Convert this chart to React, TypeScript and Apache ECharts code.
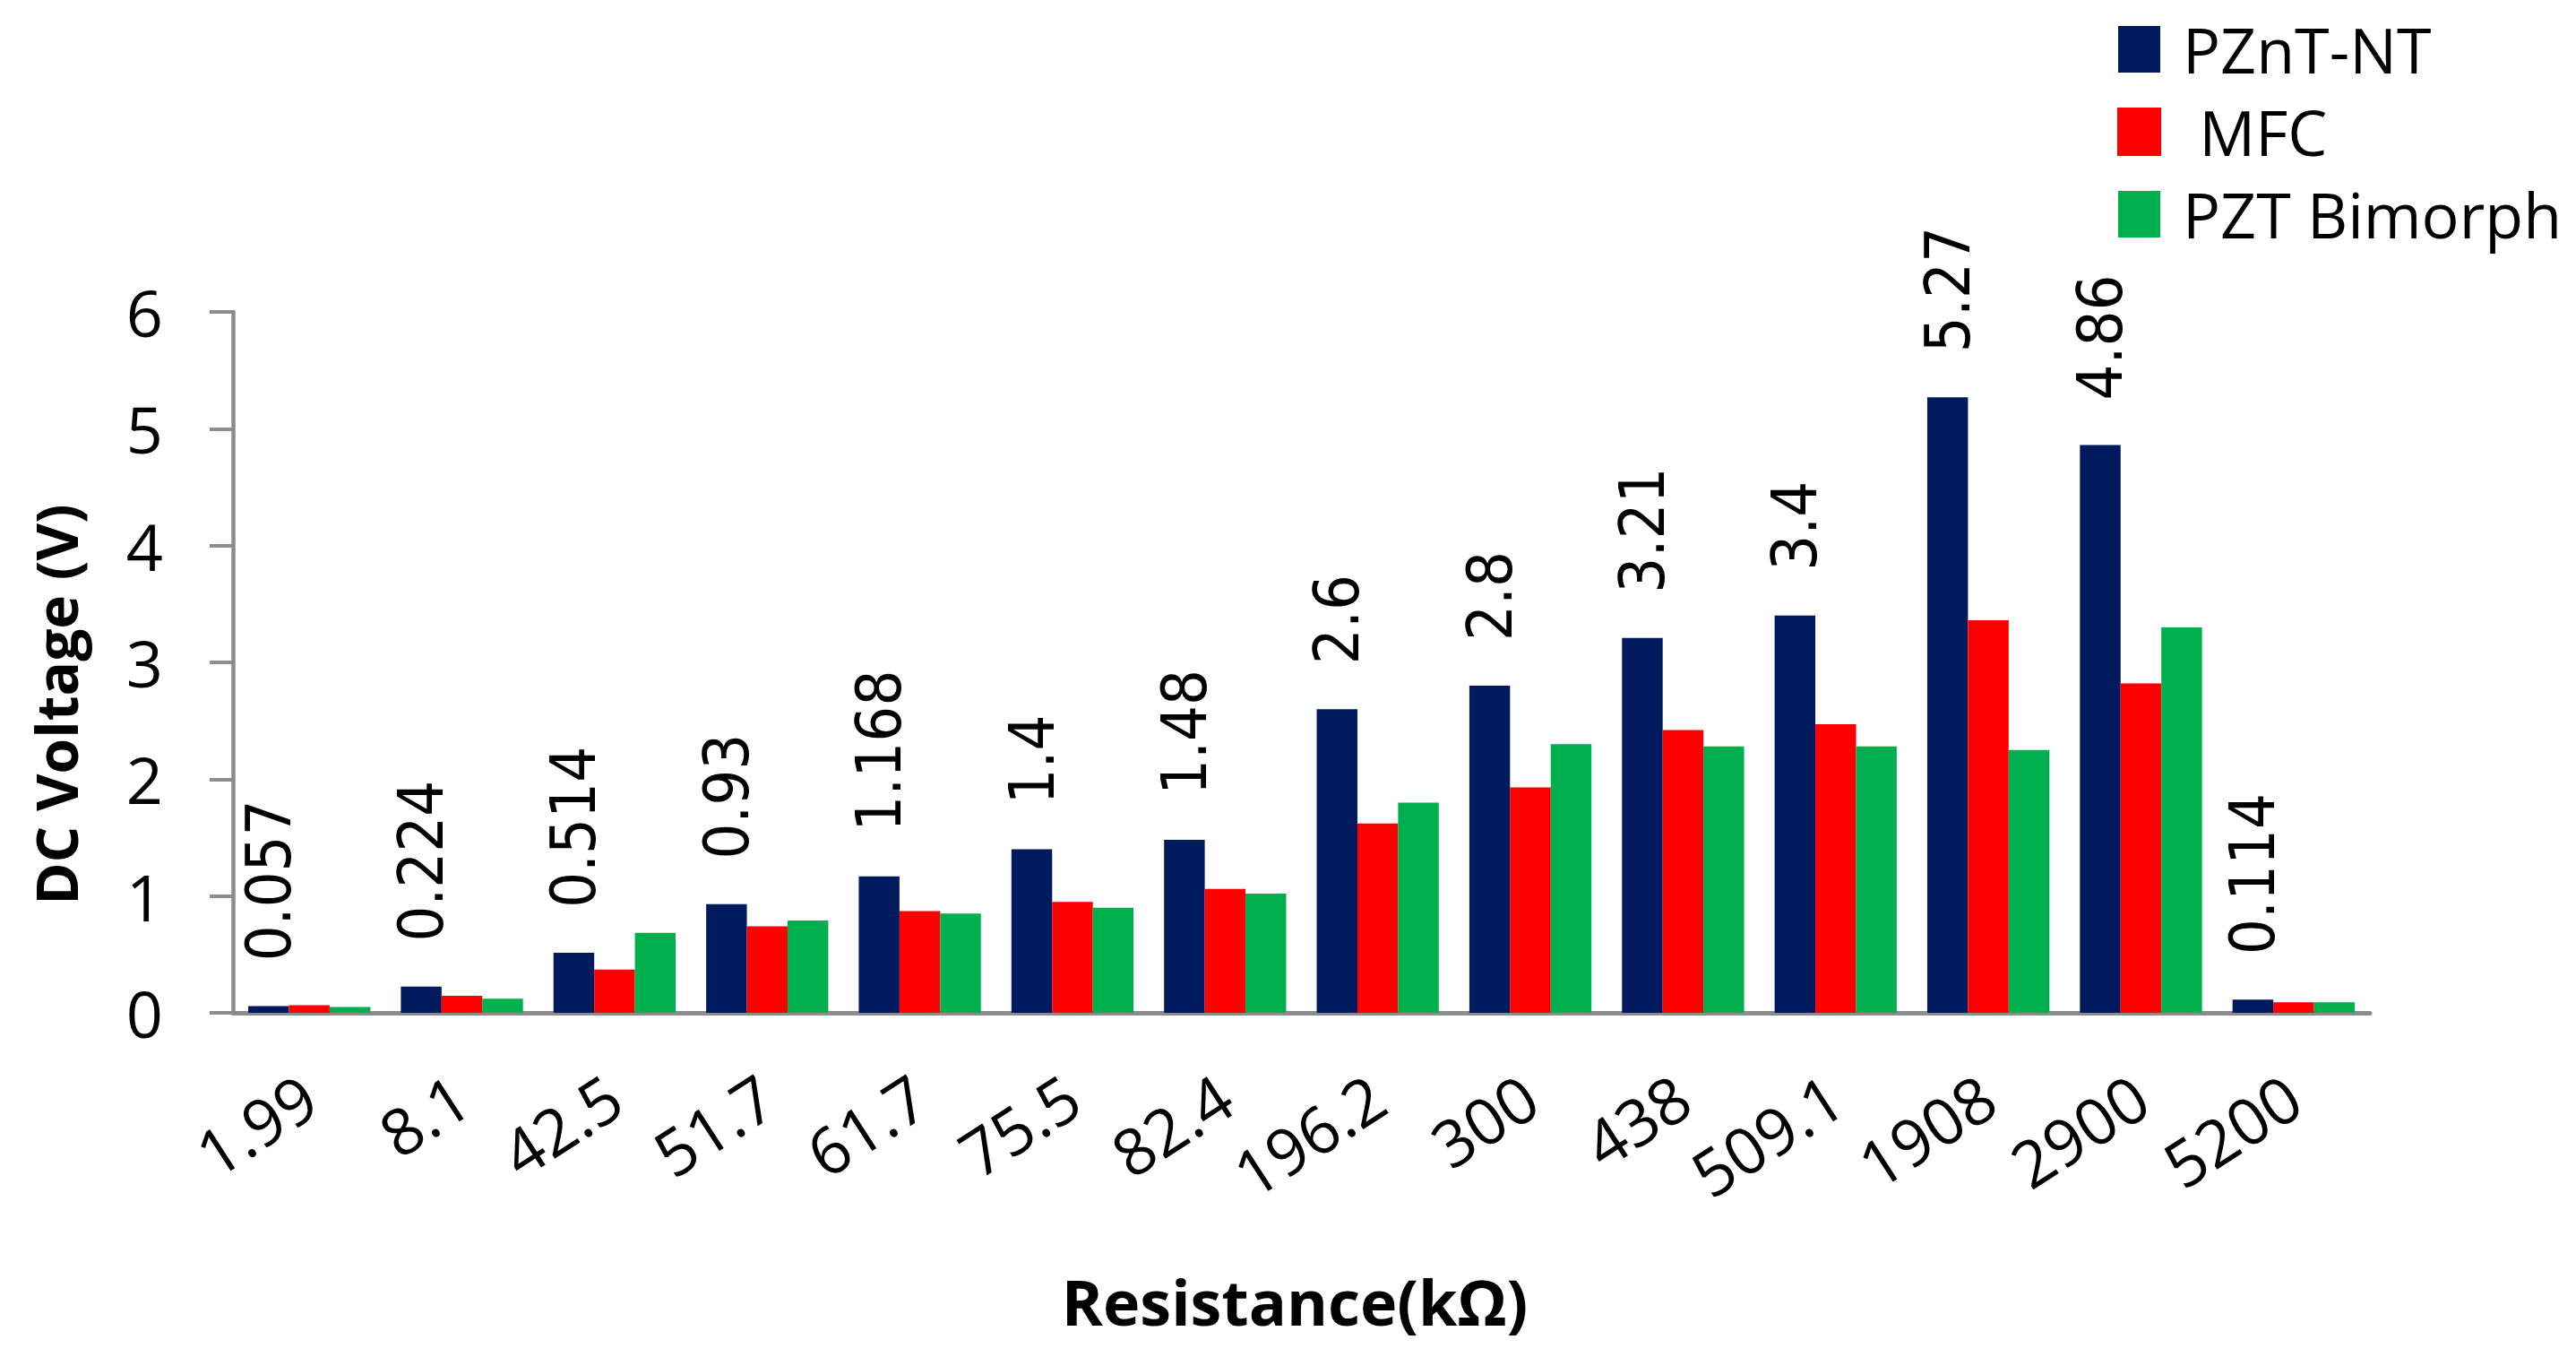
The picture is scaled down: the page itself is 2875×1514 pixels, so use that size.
import React, { useEffect, useRef } from "react";
import * as echarts from "echarts";

const categories = ["1.99", "8.1", "42.5", "51.7", "61.7", "75.5", "82.4", "196.2", "300", "438", "509.1", "1908", "2900", "5200"];
const pzntValues = [0.057, 0.224, 0.514, 0.93, 1.168, 1.4, 1.48, 2.6, 2.8, 3.21, 3.4, 5.27, 4.86, 0.114];
const mfcValues = [0.065, 0.145, 0.37, 0.74, 0.87, 0.95, 1.06, 1.62, 1.93, 2.42, 2.47, 3.36, 2.82, 0.09];
const pztValues = [0.05, 0.12, 0.685, 0.79, 0.85, 0.9, 1.02, 1.8, 2.3, 2.28, 2.28, 2.25, 3.3, 0.09];
const seriesNames = ["PZnT-NT", " MFC", "PZT Bimorph"];
const yTicks = { min: 0, max: 6, interval: 1 };
const xTitle = "Resistance(kΩ)";
const yTitle = "DC Voltage (V)";

const NAVY = "#001a5e";
const RED = "#ff0000";
const GREEN = "#00b04f";
const AXIS = "#8c8c8c";
const SANS = '"Open Sans", "Noto Sans", sans-serif';
const LABEL_FONT = '"DejaVu Sans Condensed", "DejaVu Sans", sans-serif';

export default function App() {
  const ref = useRef<HTMLDivElement>(null);
  useEffect(() => {
    document.body.style.margin = "0";
    const chart = echarts.init(ref.current!, undefined, { renderer: "svg" });
    chart.setOption({
      animation: false,
      backgroundColor: "#ffffff",
      grid: { left: 260, right: 230, top: 348, bottom: 384, containLabel: false },
      legend: {
        orient: "vertical",
        left: 2358,
        top: 15,
        itemWidth: 47,
        itemHeight: 52,
        itemGap: 22,
        icon: "rect",
        textStyle: { fontSize: 70, fontFamily: SANS, color: "#000", padding: [0, 0, 0, 20] },
        data: seriesNames,
      },
      xAxis: {
        type: "category",
        data: categories,
        axisLine: { show: true, lineStyle: { color: AXIS, width: 5 } },
        axisTick: { show: false },
        axisLabel: { interval: 0, rotate: 33, margin: 86, fontSize: 72, fontFamily: SANS, color: "#000" },
        splitLine: { show: false },
      },
      yAxis: {
        type: "value",
        min: yTicks.min,
        max: yTicks.max,
        interval: yTicks.interval,
        axisLine: { show: true, lineStyle: { color: AXIS, width: 4.5 } },
        axisTick: { show: true, length: 26, inside: false, lineStyle: { color: AXIS, width: 4 } },
        axisLabel: { margin: 78, fontSize: 72, fontFamily: SANS, color: "#000" },
        splitLine: { show: false },
      },
      series: [
        {
          name: seriesNames[0],
          type: "bar",
          data: pzntValues,
          barGap: "0%",
          barCategoryGap: "20%",
          itemStyle: { color: NAVY },
          label: {
            show: true,
            position: "top",
            distance: 50,
            rotate: 90,
            align: "left",
            verticalAlign: "middle",
            fontSize: 70,
            fontFamily: LABEL_FONT,
            color: "#000",
          },
        },
        {
          name: seriesNames[1],
          type: "bar",
          data: mfcValues,
          barGap: "0%",
          barCategoryGap: "20%",
          itemStyle: { color: RED, borderColor: RED, borderWidth: 2 },
        },
        {
          name: seriesNames[2],
          type: "bar",
          data: pztValues,
          barGap: "0%",
          barCategoryGap: "20%",
          itemStyle: { color: GREEN },
        },
      ],
      graphic: [
        {
          type: "text",
          x: 62,
          y: 786,
          rotation: Math.PI / 2,
          style: {
            text: yTitle,
            fontSize: 64,
            fontWeight: "bold",
            fontFamily: SANS,
            fill: "#000",
            align: "center",
            verticalAlign: "middle",
            textAlign: "center",
            textVerticalAlign: "middle",
          },
        },
        {
          type: "text",
          x: 1445,
          y: 1452,
          style: {
            text: xTitle,
            fontSize: 70,
            fontWeight: "bold",
            fontFamily: SANS,
            fill: "#000",
            align: "center",
            verticalAlign: "middle",
            textAlign: "center",
            textVerticalAlign: "middle",
          },
        },
      ],
    });
    return () => chart.dispose();
  }, []);
  return <div ref={ref} style={{ width: 2875, height: 1514 }} />;
}
